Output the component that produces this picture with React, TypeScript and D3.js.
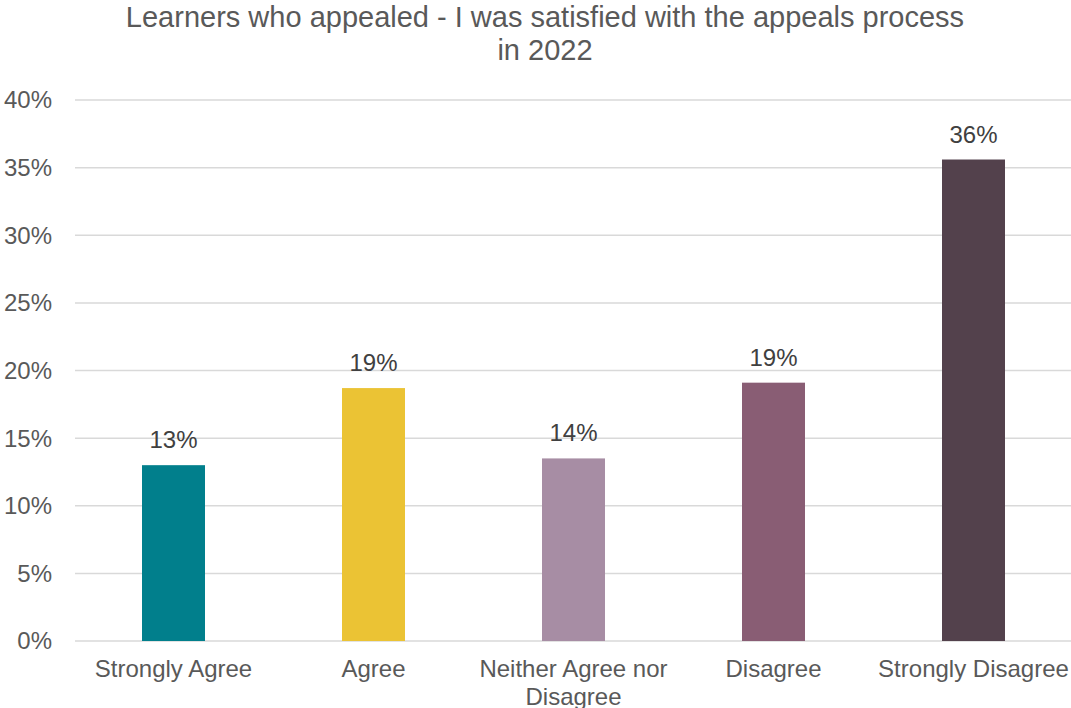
import React from "react";
import * as d3 from "d3";

const categories = ["Strongly Agree", "Agree", "Neither Agree nor Disagree", "Disagree", "Strongly Disagree"];
const categoryLines = [["Strongly Agree"], ["Agree"], ["Neither Agree nor", "Disagree"], ["Disagree"], ["Strongly Disagree"]];
const values = [0.13, 0.187, 0.135, 0.191, 0.356];
const valueLabels = ["13%", "19%", "14%", "19%", "36%"];
const colors = ["#017F8C", "#EBC334", "#A78DA4", "#895D74", "#53414C"];
const yTicks = [0, 0.05, 0.1, 0.15, 0.2, 0.25, 0.3, 0.35, 0.4];
const titleLines = ["Learners who appealed - I was satisfied with the appeals process", "in 2022"];

const W = 1071;
const H = 708;
const FONT = "'Liberation Sans', Arial, sans-serif";

export default function App() {
  const x = d3.scaleBand<string>().domain(categories).range([73.5, 1073.5]).paddingInner(0.685).paddingOuter(0.3425);
  const y = d3.scaleLinear().domain([0, 0.4]).range([641, 100]);
  const fmt = d3.format(".0%");
  return (
    <svg width={W} height={H} style={{ position: "absolute", left: 0, top: 0, background: "#fff" }} fontFamily={FONT}>
      {titleLines.map((t, i) => (
        <text key={i} x={545} y={27 + i * 33} textAnchor="middle" fontSize={29} fill="#595959">{t}</text>
      ))}
      {yTicks.map((t) => (
        <g key={t}>
          <line x1={75} x2={1071} y1={y(t)} y2={y(t)} stroke="#D9D9D9" strokeWidth={1.5} />
          <text x={52} y={y(t)} dy="0.35em" textAnchor="end" fontSize={24} fill="#595959">{fmt(t)}</text>
        </g>
      ))}
      {categories.map((c, i) => (
        <g key={c}>
          <rect x={x(c)} y={y(values[i])} width={x.bandwidth()} height={y(0) - y(values[i])} fill={colors[i]} />
          <text x={(x(c) as number) + x.bandwidth() / 2} y={y(values[i]) - 17} textAnchor="middle" fontSize={24} fill="#404040">{valueLabels[i]}</text>
          {categoryLines[i].map((l, j) => (
            <text key={j} x={(x(c) as number) + x.bandwidth() / 2} y={677 + j * 28} textAnchor="middle" fontSize={24} fill="#595959">{l}</text>
          ))}
        </g>
      ))}
    </svg>
  );
}
